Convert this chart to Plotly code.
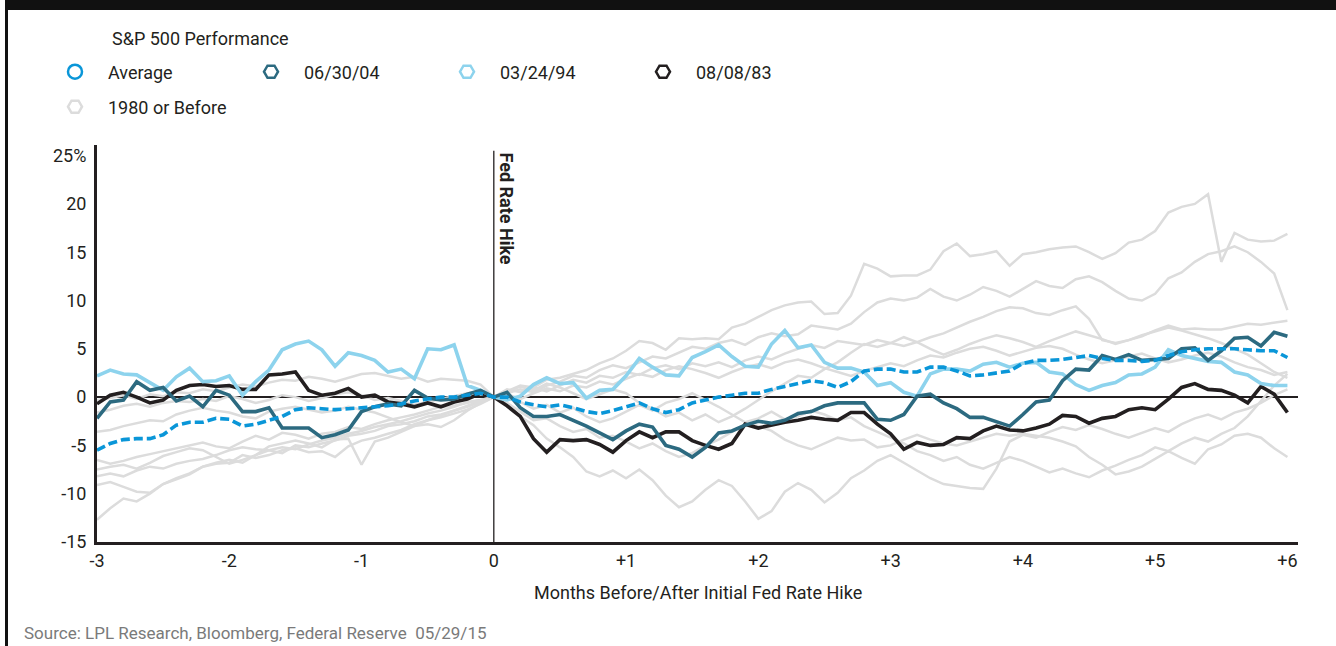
import plotly.graph_objects as go

# ---------------- data ----------------
months = [round(-3 + 0.1 * i, 1) for i in range(91)]
x_tick_vals = [-3, -2, -1, 0, 1, 2, 3, 4, 5, 6]
x_tick_text = ["-3", "-2", "-1", "0", "+1", "+2", "+3", "+4", "+5", "+6"]
y_tick_vals = [-15, -10, -5, 0, 5, 10, 15, 20, 25]
y_tick_text = ["-15", "-10", "-5", "0", "5", "10", "15", "20", "25%"]

average = [-5.5, -4.8, -4.4, -4.3, -4.3, -3.9, -2.9, -2.6, -2.6, -2.2, -2.3, -3.0, -2.8, -2.4, -2.0, -1.3,
           -1.1, -1.2, -1.3, -1.2, -1.1, -1.0, -0.9, -0.7, -0.4, -0.2, 0.0, 0.0, 0.2, 0.4, 0.0,
           0.0, -0.5, -0.8, -1.0, -0.8, -1.1, -1.5, -1.7, -1.4, -1.0, -0.6, -1.2, -1.6, -1.3, -0.6,
           -0.3, 0.0, 0.2, 0.4, 0.4, 0.8, 1.1, 1.4, 1.7, 1.5, 1.0, 1.6, 2.7, 2.9, 2.9,
           2.6, 2.6, 3.1, 3.1, 2.7, 2.2, 2.3, 2.5, 2.7, 3.5, 3.8, 3.8, 3.9, 4.1, 4.3,
           4.0, 3.8, 3.8, 3.7, 3.8, 4.3, 4.7, 4.9, 5.0, 5.0, 5.0, 4.9, 4.8, 4.8, 4.1]

hike_2004 = [-2.2, -0.5, -0.3, 1.6, 0.7, 1.0, -0.4, 0.1, -1.0, 0.7, 0.2, -1.5, -1.5, -1.1, -3.2, -3.2,
             -3.2, -4.2, -3.9, -3.4, -1.5, -1.0, -0.7, -0.9, 0.7, -0.1, -0.3, -0.2, 0.3, 0.7, 0.0,
             0.5, -1.1, -2.0, -2.0, -1.8, -2.4, -3.0, -3.7, -4.4, -3.5, -2.8, -3.1, -5.0, -5.4, -6.2,
             -5.2, -3.7, -3.5, -2.9, -2.5, -2.7, -2.4, -1.7, -1.5, -0.9, -0.6, -0.6, -0.6, -2.3, -2.4,
             -1.8, 0.1, 0.3, -0.6, -1.2, -2.1, -2.1, -2.6, -3.0, -1.8, -0.5, -0.3, 1.7, 2.9, 2.8,
             4.3, 3.9, 4.4, 3.8, 3.9, 4.0, 5.0, 5.1, 3.8, 4.8, 6.1, 6.2, 5.3, 6.7, 6.3]

hike_1994 = [2.2, 2.8, 2.4, 2.3, 1.5, 0.7, 2.1, 3.0, 1.6, 1.7, 2.2, 0.2, 1.6, 2.8, 4.9, 5.5,
             5.8, 4.9, 3.2, 4.6, 4.3, 3.8, 2.6, 2.9, 1.9, 5.0, 4.9, 5.4, 1.2, 0.7, 0.0,
             -0.3, 0.1, 1.3, 2.0, 1.4, 1.5, -0.1, 0.7, 0.8, 2.2, 4.0, 3.1, 2.3, 2.2, 4.1,
             4.7, 5.4, 4.2, 3.2, 3.1, 5.5, 6.9, 5.1, 5.4, 3.6, 3.0, 3.0, 2.6, 1.2, 1.5,
             0.5, 0.1, 2.4, 2.9, 2.9, 2.7, 3.4, 3.6, 3.1, 3.5, 3.6, 2.6, 2.4, 1.3, 0.7,
             1.2, 1.5, 2.3, 2.4, 3.1, 4.9, 4.3, 4.0, 3.7, 3.6, 2.6, 2.3, 1.4, 1.2, 1.2]

hike_1983 = [-0.7, 0.2, 0.5, 0.0, -0.6, -0.3, 0.7, 1.2, 1.3, 1.1, 1.2, 0.8, 0.8, 2.3, 2.4, 2.6,
             0.7, 0.2, 0.4, 0.9, 0.0, 0.2, -0.5, -0.7, -1.0, -0.6, -1.0, -0.5, -0.2, 0.4, 0.0,
             -0.9, -2.0, -4.3, -5.7, -4.4, -4.5, -4.4, -4.9, -5.7, -4.5, -3.6, -4.2, -3.6, -3.6, -4.5,
             -5.0, -5.4, -4.8, -2.8, -3.2, -2.9, -2.6, -2.4, -2.1, -2.3, -2.4, -1.6, -1.6, -2.8, -3.8,
             -5.4, -4.7, -5.0, -4.9, -4.2, -4.3, -3.5, -3.0, -3.4, -3.5, -3.2, -2.8, -1.9, -2.0, -2.7,
             -2.2, -2.0, -1.3, -1.1, -1.3, -0.2, 1.0, 1.4, 0.8, 0.7, 0.2, -0.6, 1.1, 0.3, -1.6]

# "1980 or Before" paths: months -3.0 .. -0.1, then 0 at the hike, then +0.1 .. +6.0
pre1980_before = [
    [-0.3, -0.1, 0.2, -0.2, 0.3, 0.1, 0.5, 0.4, 0.8, 0.6, 1.0, 1.3, 1.1, 1.5, 1.8, 1.7, 2.1, 1.9, 1.6, 2.0,
     2.4, 2.5, 2.2, 1.9, 2.1, 1.6, 1.9, 1.8, 1.7, 1.3],
    [-1.6, -1.3, -0.9, -0.7, -1.0, -0.6, -0.4, -0.5, -0.2, -0.4, 0.1, -0.2, -0.6, -0.3, 0.2, 0.0, -0.4, -0.1,
     0.3, 0.5, 0.2, -0.3, -0.1, -0.4, -0.8, -0.5, -0.2, 0.1, 0.4, 0.6],
    [-3.6, -3.4, -3.0, -2.7, -2.4, -2.5, -1.8, -1.4, -1.1, -1.4, -1.6, -2.0, -2.2, -1.5, -1.2, -1.0, -1.3, -1.6,
     -1.4, -1.0, -1.3, -1.6, -2.1, -2.6, -3.0, -2.8, -3.1, -2.4, -1.4, -0.6],
    [-6.5, -6.9, -6.6, -6.2, -5.9, -5.6, -5.3, -5.0, -4.7, -5.1, -5.3, -4.6, -4.0, -4.4, -3.7, -3.9, -4.3, -3.8,
     -3.6, -3.1, -3.3, -2.8, -2.4, -2.1, -1.8, -1.4, -1.0, -0.9, -0.6, -0.3],
    [-7.5, -7.2, -7.0, -7.4, -6.8, -6.1, -5.7, -5.3, -5.5, -6.2, -6.9, -6.5, -6.0, -5.1, -4.8, -4.5, -4.8, -5.2,
     -4.4, -4.3, -7.0, -4.6, -4.2, -3.6, -3.0, -2.4, -2.1, -1.7, -1.3, -0.7],
    [-8.2, -7.9, -8.2, -7.6, -7.2, -7.4, -6.9, -6.6, -6.4, -6.0, -5.5, -5.2, -5.4, -5.5, -5.2, -5.4, -4.9, -4.5,
     -4.2, -3.8, -3.5, -3.1, -2.8, -2.5, -2.1, -1.7, -1.4, -1.0, -0.5, -0.3],
    [-9.1, -8.8, -9.3, -9.8, -9.9, -9.0, -8.4, -7.9, -7.2, -6.9, -6.8, -6.0, -6.3, -6.0, -5.5, -5.3, -5.7, -5.6,
     -6.2, -5.1, -4.5, -4.2, -3.8, -3.4, -2.8, -2.4, -1.9, -1.4, -0.9, -0.4],
    [-12.7, -11.5, -10.5, -10.8, -10.0, -9.0, -8.5, -8.0, -7.2, -6.8, -6.5, -6.8, -6.0, -5.5, -5.8, -5.0, -5.2,
     -4.8, -4.5, -4.0, -3.8, -3.5, -3.0, -2.8, -2.5, -2.0, -1.8, -1.4, -1.0, -0.5],
]
pre1980_after = [
    [0.6, 1.2, 1.0, 1.8, 2.0, 2.4, 2.8, 3.5, 4.0, 4.8, 5.8, 5.6, 4.9, 6.1, 6.0, 6.1, 6.0, 7.2, 7.6, 8.3,
     9.0, 9.5, 9.8, 9.9, 8.6, 8.7, 10.5, 13.8, 13.3, 12.5, 12.6, 12.6, 13.2, 15.1, 15.9, 14.6, 14.8, 15.1, 13.6, 14.8,
     15.0, 15.3, 15.5, 15.6, 15.0, 14.3, 14.9, 16.0, 16.3, 17.2, 19.1, 19.7, 20.0, 21.0, 14.0, 17.0, 16.3, 16.1, 16.2, 16.9],
    [0.4, 0.8, 0.5, 1.2, 1.6, 2.2, 2.0, 2.8, 3.3, 3.0, 3.6, 4.2, 4.0, 4.6, 5.2, 5.0, 5.6, 5.9, 5.4, 6.2,
     6.6, 6.3, 6.5, 7.4, 7.2, 7.0, 7.6, 8.8, 9.8, 10.2, 10.0, 10.3, 11.2, 10.4, 10.0, 10.6, 11.4, 11.0, 10.4, 11.2,
     12.0, 11.5, 11.3, 12.2, 12.5, 11.9, 11.0, 10.2, 10.0, 10.7, 12.3, 12.9, 14.0, 14.8, 15.1, 15.6, 15.0, 14.0, 12.8, 9.0],
    [0.8, 0.5, 1.0, 0.6, 1.2, 1.8, 1.5, 2.2, 2.0, 2.6, 2.3, 3.0, 3.3, 2.9, 3.5, 3.2, 3.6, 3.1, 3.8, 4.2,
     3.9, 4.5, 5.0, 5.4, 5.1, 5.8, 5.6, 5.4, 5.9, 5.6, 5.3, 5.7, 6.2, 6.6, 7.2, 7.8, 8.3, 8.9, 9.3, 9.2,
     8.7, 8.5, 9.0, 9.4, 8.1, 5.9, 5.6, 5.9, 6.3, 6.9, 7.4, 7.0, 7.1, 7.0, 7.0, 7.3, 7.6, 7.5, 7.7, 7.9],
    [0.3, -0.2, 0.4, 0.9, 0.6, 1.2, 1.0, 1.6, 1.3, 1.9, 2.4, 2.1, 2.8, 3.2, 2.9, 2.5, 2.0, 2.6, 3.1, 3.4,
     3.0, 3.6, 3.9, 3.5, 3.0, 2.6, 2.2, 2.7, 3.1, 3.5, 3.2, 3.8, 4.3, 4.1, 4.6, 5.0, 5.2, 4.8, 4.3, 4.7,
     5.1, 5.3, 5.0, 4.4, 3.9, 3.5, 3.8, 4.2, 4.5, 4.0, 3.6, 3.9, 4.3, 4.6, 4.2, 3.6, 3.1, 2.8, 2.3, 2.6],
    [-0.8, -2.0, -2.9, -4.3, -5.2, -6.2, -7.7, -8.2, -7.6, -8.4, -7.5, -8.6, -10.2, -11.4, -10.8, -9.6, -8.6, -9.2,
     -10.8, -12.6, -11.8, -9.8, -8.9, -9.6, -10.9, -9.9, -8.4, -7.6, -6.6, -6.0, -6.8, -7.6, -8.4, -9.0, -9.2, -9.4,
     -9.5, -7.4, -4.6, -3.9, -4.2, -3.6, -3.1, -3.4, -2.9, -3.3, -3.8, -4.2, -3.7, -3.2, -3.6, -2.8, -2.2, -1.8,
     -2.3, -1.6, -1.2, -0.6, 0.2, 0.8],
    [-0.6, -1.5, -2.4, -2.2, -3.0, -3.6, -3.3, -4.2, -4.0, -4.6, -5.3, -4.8, -5.6, -6.2, -5.8, -5.0, -4.4, -3.6,
     -2.8, -3.0, -3.5, -4.4, -5.0, -5.4, -4.8, -4.2, -4.5, -4.4, -5.2, -5.0, -4.4, -3.9, -4.4, -4.8, -5.0, -4.6,
     -4.2, -3.8, -4.0, -3.8, -4.0, -4.2, -4.6, -5.1, -6.2, -7.0, -8.0, -7.7, -7.2, -6.4, -5.6, -6.3, -6.9, -5.4,
     -4.9, -4.0, -3.8, -4.2, -5.3, -6.2],
    [0.5, 1.1, 0.7, 1.4, 1.0, 0.4, -0.2, 0.3, 0.8, 0.4, -0.6, -1.2, -2.0, -1.6, -2.4, -1.8, -2.6, -2.0, -1.2, -0.3,
     0.6, 1.4, 2.2, 2.0, 2.9, 3.6, 4.6, 5.5, 5.2, 5.6, 6.2, 5.7, 5.0, 4.4, 4.9, 5.5, 6.0, 6.4, 6.1, 5.7,
     5.2, 5.8, 6.3, 6.8, 6.4, 6.0, 5.5, 5.9, 6.4, 6.8, 7.2, 6.9, 6.5, 6.1, 5.6, 5.0, 4.4, 3.5, 2.6, 2.0],
    [0.3, -0.5, -1.2, -0.8, -1.6, -1.1, -2.0, -2.6, -2.2, -1.5, -0.8, -1.4, -0.6, -0.2, 0.4, -0.3, -1.0, -1.8,
     -2.6, -2.2, -1.5, -2.3, -2.0, -1.4, -1.8, -2.4, -2.1, -3.0, -3.6, -4.2, -4.8, -5.6, -6.0, -6.6, -6.2, -7.0,
     -7.4, -6.8, -6.2, -6.6, -7.2, -7.8, -7.4, -7.9, -8.3, -7.6, -7.1, -6.5, -6.0, -5.2, -5.6, -4.8, -4.2, -4.6,
     -3.8, -3.2, -2.0, -0.4, 1.2, 2.4],
]
hike_value = 0.0

for s in (average, hike_2004, hike_1994, hike_1983):
    assert len(s) == len(months), len(s)
for b, a in zip(pre1980_before, pre1980_after):
    assert len(b) == 30 and len(a) == 60, (len(b), len(a))

# ---------------- styles ----------------
INK = "#231f20"
GRAY = "#dcdcdc"
TEAL = "#2c6a80"
LIGHT = "#8dd3ed"
BLUE = "#0a96d8"
FONT = "Liberation Sans Narrow, Roboto, Arial Narrow, sans-serif"

W, H = 1336, 646
L, R, T, B = 97, 38, 145, 104
PW, PH = W - L - R, H - T - B


def px_x(px):
    return (px - L) / PW


def px_y(py):
    return (H - B - py) / PH


fig = go.Figure()

for b, a in zip(pre1980_before, pre1980_after):
    fig.add_trace(go.Scatter(x=months, y=b + [hike_value] + a, mode="lines",
                             line=dict(color=GRAY, width=2.5), showlegend=False, hoverinfo="skip"))

fig.add_trace(go.Scatter(x=months, y=hike_1983, mode="lines", line=dict(color=INK, width=3.6),
                         showlegend=False, hoverinfo="skip"))
fig.add_trace(go.Scatter(x=months, y=hike_1994, mode="lines", line=dict(color=LIGHT, width=3.6),
                         showlegend=False, hoverinfo="skip"))
fig.add_trace(go.Scatter(x=months, y=hike_2004, mode="lines", line=dict(color=TEAL, width=3.6),
                         showlegend=False, hoverinfo="skip"))
fig.add_trace(go.Scatter(x=months, y=average, mode="lines", line=dict(color=BLUE, width=3.6, dash="9px,4px"),
                         showlegend=False, hoverinfo="skip"))

# legend entries
legend_items = [
    ("Average", "circle-open", BLUE, "legend"),
    ("06/30/04", "hexagon2-open", TEAL, "legend"),
    ("03/24/94", "hexagon2-open", LIGHT, "legend"),
    ("08/08/83", "hexagon2-open", INK, "legend"),
    ("1980 or Before", "hexagon2-open", GRAY, "legend2"),
]
for name, sym, col, lg in legend_items:
    fig.add_trace(go.Scatter(x=[None], y=[None], mode="markers", name=name, legend=lg,
                             marker=dict(symbol=sym, size=14, color=col, line=dict(color=col, width=2.5))))

legend_common = dict(orientation="h", xref="container", yref="container", xanchor="left", yanchor="middle",
                     x=42 / W, itemwidth=56, entrywidth=125, font=dict(family=FONT, size=18, color=INK),
                     bgcolor="rgba(0,0,0,0)", borderwidth=0, tracegroupgap=0)

fig.update_layout(
    width=W, height=H,
    margin=dict(l=L, r=R, t=T, b=B, autoexpand=False),
    paper_bgcolor="white", plot_bgcolor="white",
    font=dict(family=FONT, size=18, color=INK),
    legend=dict(legend_common, y=1 - 72 / H),
    legend2=dict(legend_common, y=1 - 107 / H),
    xaxis=dict(range=[-3, 6.08], tickvals=x_tick_vals, ticktext=x_tick_text, showgrid=False, zeroline=False,
               showline=True, linecolor=INK, linewidth=3, ticks="", ticklabelstandoff=0,
               tickfont=dict(family=FONT, size=18, color=INK), fixedrange=True),
    yaxis=dict(range=[-15, 26.1], tickvals=y_tick_vals, ticktext=y_tick_text, showgrid=False, zeroline=True,
               zerolinecolor=INK, zerolinewidth=2, showline=True, linecolor=INK, linewidth=3, ticks="",
               ticklabelstandoff=4, tickfont=dict(family=FONT, size=18, color=INK), fixedrange=True),
    shapes=[
        dict(type="line", xref="x", yref="y", x0=0, x1=0, y0=-15, y1=25.5, line=dict(color=INK, width=1.3),
             layer="below"),
        dict(type="rect", xref="paper", yref="paper", x0=px_x(5), x1=px_x(W + 5), y0=px_y(10), y1=px_y(-5),
             fillcolor="#111111", line=dict(width=0)),
        dict(type="rect", xref="paper", yref="paper", x0=px_x(5), x1=px_x(8), y0=px_y(H + 5), y1=px_y(0),
             fillcolor="#111111", line=dict(width=0)),
    ],
    annotations=[
        dict(text="Fed Rate Hike", x=0, y=25.5, xref="x", yref="y", textangle=90, xanchor="left",
             yanchor="top", showarrow=False, xshift=0, font=dict(family=FONT, size=18, color=INK, weight="bold")),
        dict(text="S&P 500 Performance", x=px_x(110), y=px_y(38), xref="paper", yref="paper", xanchor="left",
             yanchor="middle", showarrow=False, font=dict(family=FONT, size=18, color=INK)),
        dict(text="Months Before/After Initial Fed Rate Hike", x=0.5, y=px_y(592), xref="paper", yref="paper",
             xanchor="center", yanchor="middle", showarrow=False, font=dict(family=FONT, size=18, color=INK)),
        dict(text="Source: LPL Research, Bloomberg, Federal Reserve\u00a0\u00a005/29/15", x=px_x(22),
             y=px_y(633), xref="paper", yref="paper", xanchor="left", yanchor="middle", showarrow=False,
             font=dict(family=FONT, size=17, color="#7a7a7a")),
    ],
)

fig.write_html("out.html", config={"displayModeBar": False},
               post_script="document.body.style.margin='0';")
